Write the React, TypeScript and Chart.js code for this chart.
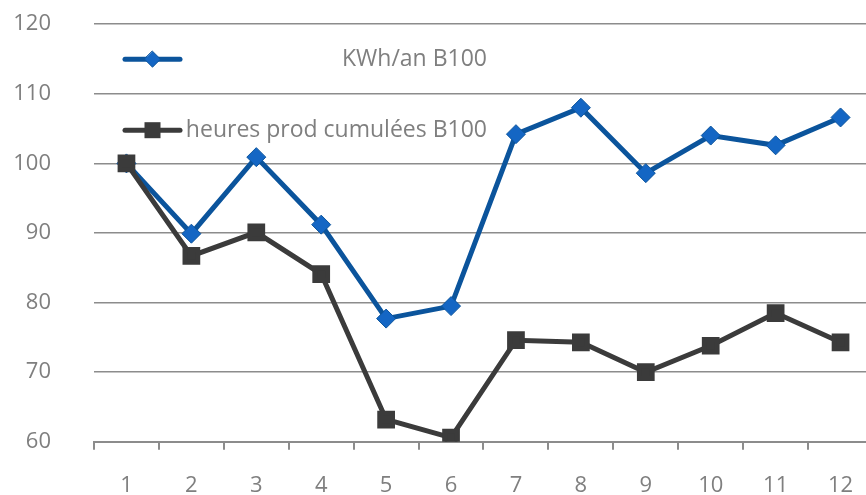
import React, { useEffect, useRef } from "react";
import { Chart, registerables } from "chart.js";

Chart.register(...registerables);

const categories = ["1", "2", "3", "4", "5", "6", "7", "8", "9", "10", "11", "12"];
const kwhLabel = "KWh/an B100";
const kwhValues = [100, 89.9, 100.9, 91.2, 77.7, 79.5, 104.2, 108, 98.6, 104, 102.6, 106.6];
const heuresLabel = "heures prod cumulées B100";
const heuresValues = [100, 86.7, 90.1, 84.1, 63.2, 60.6, 74.6, 74.3, 70, 73.8, 78.5, 74.3];
const yMin = 60;
const yMax = 120;
const yStep = 10;

const BLUE_LINE = "#0B549C";
const BLUE_FILL = "#1466C4";
const DARK = "#3B3B3B";
const TEXT = "#7F7F7F";
const GRID = "#8C8C8C";
const FONT = "'Open Sans', sans-serif";

const legendPlugin = {
  id: "customLegend",
  afterDraw(chart: any) {
    const ctx = chart.ctx;
    const a = chart.chartArea;
    const x0 = a.left + 31;
    const x1 = a.left + 86;
    const xm = (x0 + x1) / 2;
    const rows = [
      { y: a.top + 35, color: BLUE_LINE, fill: BLUE_FILL, shape: "diamond", text: kwhLabel },
      { y: a.top + 106, color: DARK, fill: DARK, shape: "square", text: heuresLabel },
    ];
    ctx.save();
    ctx.font = `23px ${FONT}`;
    ctx.textBaseline = "middle";
    ctx.textAlign = "right";
    for (const r of rows) {
      ctx.strokeStyle = r.color;
      ctx.lineWidth = 5;
      ctx.lineCap = "round";
      ctx.beginPath();
      ctx.moveTo(x0, r.y);
      ctx.lineTo(x1, r.y);
      ctx.stroke();
      ctx.fillStyle = r.fill;
      if (r.shape === "diamond") {
        ctx.beginPath();
        ctx.moveTo(xm, r.y - 8);
        ctx.lineTo(xm + 8, r.y);
        ctx.lineTo(xm, r.y + 8);
        ctx.lineTo(xm - 8, r.y);
        ctx.closePath();
        ctx.fill();
        ctx.lineWidth = 1;
        ctx.strokeStyle = BLUE_LINE;
        ctx.stroke();
      } else {
        ctx.fillRect(xm - 8, r.y - 8, 16, 16);
      }
      ctx.fillStyle = TEXT;
      ctx.fillText(r.text, a.left + 393, r.y);
    }
    ctx.restore();
  },
};

export default function App() {
  const ref = useRef<HTMLCanvasElement | null>(null);
  useEffect(() => {
    if (!ref.current) return;
    const chart = new Chart(ref.current, {
      type: "line",
      data: {
        labels: categories,
        datasets: [
          {
            label: kwhLabel,
            data: kwhValues,
            borderColor: BLUE_LINE,
            backgroundColor: BLUE_FILL,
            pointBackgroundColor: BLUE_FILL,
            pointBorderColor: BLUE_LINE,
            pointBorderWidth: 1,
            borderWidth: 5,
            pointStyle: "rectRot",
            pointRadius: 9.5,
            tension: 0,
            order: 2,
          },
          {
            label: heuresLabel,
            data: heuresValues,
            borderColor: DARK,
            backgroundColor: DARK,
            pointBackgroundColor: DARK,
            pointBorderColor: DARK,
            borderWidth: 5,
            pointStyle: "rect",
            pointRadius: 9,
            tension: 0,
            order: 1,
          },
        ],
      },
      options: {
        animation: false,
        responsive: false,
        maintainAspectRatio: false,
        layout: { padding: { top: 0, right: 0, bottom: 0, left: 0 } },
        plugins: {
          legend: { display: false },
          tooltip: { enabled: false },
        },
        scales: {
          x: {
            type: "category",
            offset: true,
            grid: {
              offset: true,
              drawOnChartArea: false,
              drawTicks: true,
              tickLength: 8,
              color: GRID,
              lineWidth: 2,
            },
            border: { display: true, color: GRID, width: 2 },
            ticks: {
              color: TEXT,
              font: { family: FONT, size: 22 },
              padding: 23,
              maxRotation: 0,
            },
            afterFit: (s: any) => {
              s.height = 54;
            },
          },
          y: {
            min: yMin,
            max: yMax,
            grid: { drawTicks: false, color: GRID, lineWidth: 1.5 },
            border: { display: false },
            ticks: {
              stepSize: yStep,
              color: TEXT,
              font: { family: FONT, size: 22 },
              padding: 43,
            },
            afterFit: (s: any) => {
              s.width = 94;
            },
          },
        },
      },
      plugins: [legendPlugin],
    });
    return () => chart.destroy();
  }, []);
  return (
    <div
      style={{
        position: "fixed",
        left: 0,
        top: 0,
        width: 866,
        height: 495,
        overflow: "hidden",
        background: "#ffffff",
      }}
    >
      <canvas
        ref={ref}
        width={887}
        height={530}
        style={{ display: "block", marginTop: -32 }}
      />
    </div>
  );
}
